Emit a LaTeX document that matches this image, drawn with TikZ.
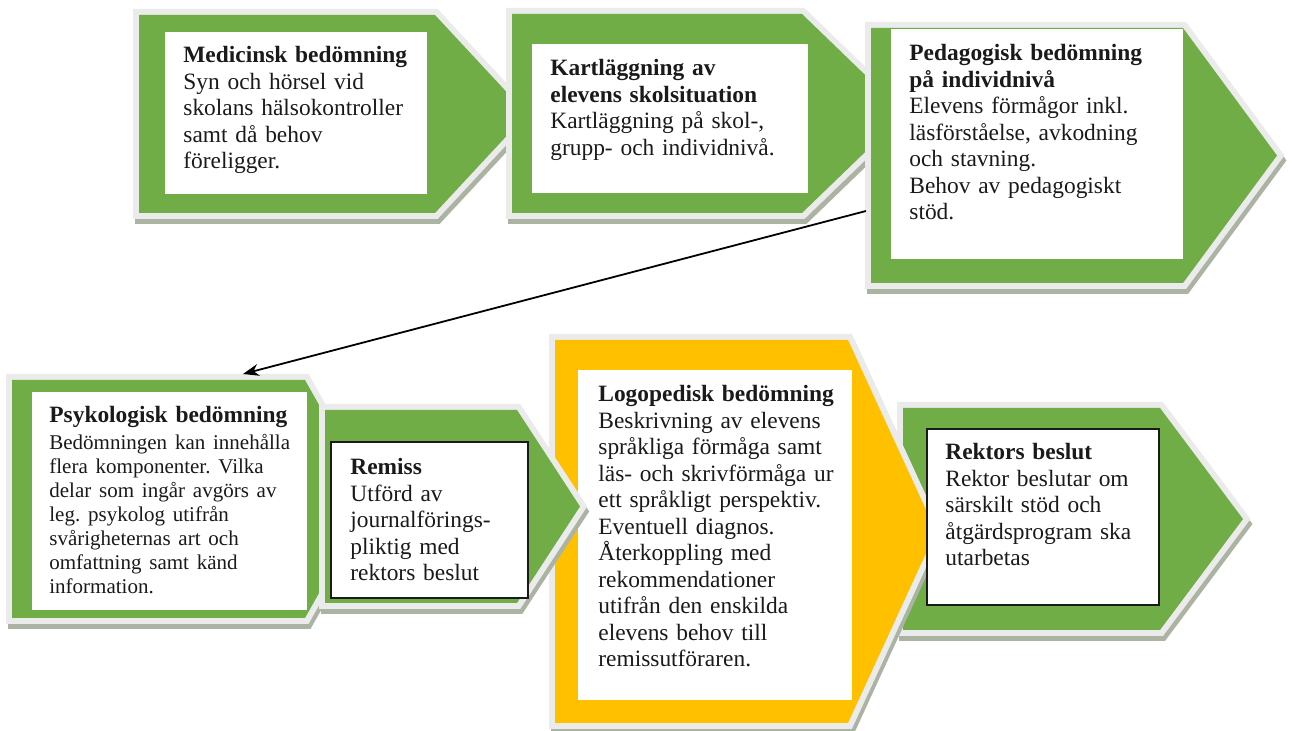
\documentclass[tikz,border=0pt]{standalone}
\usepackage{fontspec}
\setmainfont{Liberation Serif}
\usetikzlibrary{arrows.meta}
\definecolor{grn}{HTML}{70AD47}
\definecolor{ylw}{HTML}{FFC000}
\definecolor{brd}{HTML}{EBEBEB}
\definecolor{shd}{HTML}{ABB3A3}
\definecolor{ink}{HTML}{1A1A1A}
% chevron: x1, y1, xs (start of slant), xt (tip), y2, fill colour
\newcommand\drawchev[6]{%
  \path[fill=shd,draw=shd,line width=6pt,line join=miter,shift={(2,5)}]
    (#1,#2) -- (#3,#2) -- (#4,{(#2+#5)/2}) -- (#3,#5) -- (#1,#5) -- cycle;
  \path[fill=brd,draw=brd,line width=6pt,line join=miter]
    (#1,#2) -- (#3,#2) -- (#4,{(#2+#5)/2}) -- (#3,#5) -- (#1,#5) -- cycle;
  \path[fill=#6]
    (#1,#2) -- (#3,#2) -- (#4,{(#2+#5)/2}) -- (#3,#5) -- (#1,#5) -- cycle;
}
\tikzset{
  wbox/.style={fill=white,inner sep=0pt,outer sep=0pt,anchor=north west},
  framed/.style={draw=ink,line width=0.6pt},
  txt/.style={anchor=base west,inner sep=0pt,text width=160pt,align=left,
    text=ink,font=\frenchspacing\fontsize{11.7pt}{13.25pt}\selectfont},
  link/.style={draw=black,line width=0.9pt,-{Stealth[length=8pt,width=6pt]}}
}
\begin{document}
\frenchspacing
\begin{tikzpicture}[x=0.5pt,y=-0.5pt]
\useasboundingbox (0,0) rectangle (1292,731);
\fill[white] (0,0) rectangle (1292,731);
% ---------- top row ----------
\drawchev{139}{15}{435}{527}{213}{grn}
\node[wbox,minimum width={(427-165)*0.5pt},minimum height={(194-32)*0.5pt}] (b1) at (165,32) {};
\node[txt] (t1) at (183,63) {\textbf{Medicinsk bedömning}\\Syn och hörsel vid\\skolans hälsokontroller\\samt då behov\\föreligger.};
\drawchev{512}{14}{802}{905}{213}{grn}
\node[wbox,minimum width={(808-532)*0.5pt},minimum height={(193-44)*0.5pt}] (b2) at (532,44) {};
\node[txt] (t2) at (550,76) {\textbf{Kartläggning av}\\\textbf{elevens skolsituation}\\Kartläggning på skol-,\\grupp- och individnivå.};
\drawchev{871}{28}{1183}{1277}{283}{grn}
\node[wbox,minimum width={(1183-891)*0.5pt},minimum height={(259-29)*0.5pt}] (b3) at (891,29) {};
\node[txt] (t3) at (909,61) {\textbf{Pedagogisk bedömning}\\\textbf{på individnivå}\\Elevens förmågor inkl.\\läsförståelse, avkodning\\och stavning.\\Behov av pedagogiskt\\stöd.};
% ---------- bottom row ----------
\drawchev{903}{408}{1160}{1243}{630}{grn}
\drawchev{555}{340}{848}{936}{723}{ylw}
\node[wbox,minimum width={(852-578)*0.5pt},minimum height={(700-370)*0.5pt}] (b6) at (578,370) {};
\node[txt] (t6) at (598,402) {\textbf{Logopedisk bedömning}\\Beskrivning av elevens\\språkliga förmåga samt\\läs- och skrivförmåga ur\\ett språkligt perspektiv.\\Eventuell diagnos.\\Återkoppling med\\rekommendationer\\utifrån den enskilda\\elevens behov till\\remissutföraren.};
\drawchev{12}{380}{305}{372}{618}{grn}
\node[wbox,minimum width={(307-32)*0.5pt},minimum height={(610-392)*0.5pt}] (b4) at (32,392) {};
\node[txt] (t4) at (49,423) {\textbf{Psykologisk bedömning}\par\vspace{1.3pt}%
{\fontsize{10.5pt}{12pt}\selectfont Bedömningen kan innehålla\\flera komponenter. Vilka\\delar som ingår avgörs av\\leg. psykolog utifrån\\svårigheternas art och\\omfattning samt känd\\information.\par}};
\drawchev{325}{410}{517}{580}{603}{grn}
\node[wbox,framed,minimum width={(528-331)*0.5pt},minimum height={(598-442)*0.5pt}] (b5) at (331,442) {};
\node[txt] (t5) at (350,475) {\textbf{Remiss}\\Utförd av\\journalförings-\\pliktig med\\rektors beslut};
\node[wbox,framed,minimum width={(1159-927)*0.5pt},minimum height={(605-429)*0.5pt}] (b7) at (927,429) {};
\node[txt] (t7) at (945,460) {\textbf{Rektors beslut}\\Rektor beslutar om\\särskilt stöd och\\åtgärdsprogram ska\\utarbetas};
% ---------- connector ----------
\coordinate (from3) at (866,211);
\coordinate (to4) at (243,374);
\draw[link] (from3) -- (to4);
\end{tikzpicture}
\end{document}
